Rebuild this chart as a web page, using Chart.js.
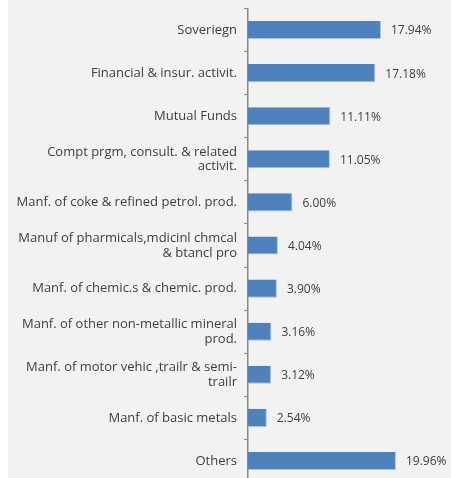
<!DOCTYPE html>
<html>
<head>
<meta charset="utf-8">
<script src="https://cdn.jsdelivr.net/npm/chart.js@4.4.0/dist/chart.umd.min.js"></script>
<style>
  html, body { margin: 0; padding: 0; background: #ffffff; overflow: hidden; }
  #wrap { position: absolute; left: 8px; top: 0; width: 443px; height: 483px; background: #f2f2f2; }
  canvas { display: block; }
</style>
</head>
<body>
<div id="wrap"><canvas id="c" width="443" height="483"></canvas></div>
<script>
// Sector allocation (% of portfolio)
const sectors = [
  'Soveriegn',
  'Financial & insur. activit.',
  'Mutual Funds',
  ['Compt prgm, consult. & related', 'activit.'],
  'Manf. of coke & refined petrol. prod.',
  ['Manuf of pharmicals,mdicinl chmcal', '& btancl pro'],
  'Manf. of chemic.s & chemic. prod.',
  ['Manf. of other non-metallic mineral', 'prod.'],
  ['Manf. of motor vehic ,trailr & semi-', 'trailr'],
  'Manf. of basic metals',
  'Others'
];
const shares = [17.94, 17.18, 11.11, 11.05, 6.00, 4.04, 3.90, 3.16, 3.12, 2.54, 19.96];

const FONT = '"Open Sans", "DejaVu Sans", sans-serif';
const TEXT = '#404040';

// Writes the percentage just past the end of each bar
const valueLabels = {
  id: 'valueLabels',
  afterDatasetsDraw(chart) {
    const ctx = chart.ctx;
    const meta = chart.getDatasetMeta(0);
    ctx.save();
    ctx.font = '12px ' + FONT;
    ctx.fillStyle = TEXT;
    ctx.textAlign = 'left';
    ctx.textBaseline = 'middle';
    meta.data.forEach((bar, i) => {
      ctx.fillText(shares[i].toFixed(2) + '%', bar.x + 10, bar.y + 1);
    });
    ctx.restore();
  }
};

new Chart(document.getElementById('c'), {
  type: 'bar',
  data: {
    labels: sectors,
    datasets: [{
      data: shares,
      backgroundColor: '#4f81bd',
      borderColor: '#a9c1e2',
      borderWidth: { top: 0, left: 0, right: 1, bottom: 1 },
      borderSkipped: false,
      categoryPercentage: 1,
      barPercentage: 0.42
    }]
  },
  options: {
    indexAxis: 'y',
    responsive: false,
    animation: false,
    layout: { padding: { top: 8.5, bottom: 0.5, left: 0, right: 17.7 } },
    plugins: { legend: { display: false }, tooltip: { enabled: false } },
    scales: {
      x: { display: false, min: 0, max: 25 },
      y: {
        afterFit(scale) {
          scale.width = 240;
          scale.paddingTop = 0;
          scale.paddingBottom = 0;
        },
        border: { display: true, color: '#8a8a8a', width: 1.5 },
        grid: {
          display: true,
          offset: true,
          drawOnChartArea: false,
          drawTicks: true,
          tickLength: 4,
          color: '#8a8a8a',
          lineWidth: 1
        },
        ticks: {
          color: TEXT,
          padding: 7,
          font: { family: FONT, size: 13, lineHeight: 1.15 }
        }
      }
    }
  },
  plugins: [valueLabels]
});
</script>
</body>
</html>
